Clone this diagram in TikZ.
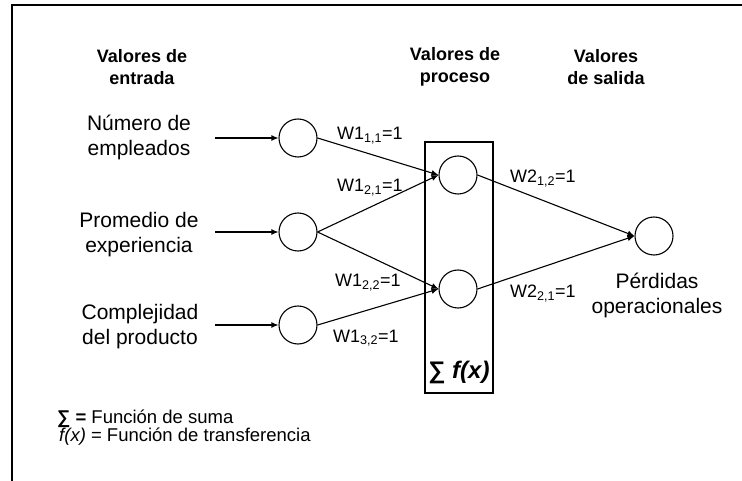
\documentclass[tikz,border=0pt]{standalone}
\usepackage{fontspec}
\setmainfont{Liberation Sans}
\usetikzlibrary{arrows.meta}

\begin{document}
\begin{tikzpicture}[x=1pt, y=-1pt,
    neurona/.style={draw, circle, minimum size=38pt, inner sep=0pt, line width=1.1pt},
    flecha/.style={-{Latex[length=7pt,width=6pt]}, line width=1.1pt},
    texto/.style={align=center, font=\fontsize{21}{25}\selectfont},
    titulo/.style={align=center, font=\fontsize{18}{22}\selectfont\bfseries},
    peso/.style={anchor=base west, inner sep=0pt, font=\fontsize{18}{22}\selectfont},
    leyenda/.style={anchor=base west, inner sep=0pt, font=\fontsize{18.5}{22}\selectfont}]

            \useasboundingbox (0,0) rectangle (742,481);
            \draw[line width=2pt] (12,481) -- (12,5) -- (742,5);

            % titulos
            \node[titulo] (tit1) at (142,67) {Valores de\\entrada};
            \node[titulo] (tit2) at (455,67) {Valores de\\proceso};
            \node[titulo] (tit3) at (606,67) {Valores\\de salida};

            % entradas
            \node[texto] (x1) at (139,137) {Número de\\empleados};
            \node[texto] (x2) at (139,235) {Promedio de\\experiencia};
            \node[texto] (x3) at (140,327) {Complejidad\\del producto};
            \node[texto] (y1) at (657,295) {Pérdidas\\operacionales};

            \coordinate (a1) at (215,138);
            \coordinate (a2) at (215,232);
            \coordinate (a3) at (215,325);

            % neuronas
            \node[draw, line width=1.1pt, minimum width=68pt, minimum height=251pt, inner sep=0pt] (caja) at (459,267.5) {};
            \node[neurona] (e1) at (298,138) {};
            \node[neurona] (e2) at (298,232) {};
            \node[neurona] (e3) at (298,325) {};
            \node[neurona] (h1) at (458,175) {};
            \node[neurona] (h2) at (458,289) {};
            \node[neurona] (o) at (654,236) {};

            \draw[flecha] (a1) -- (e1);
            \draw[flecha] (a2) -- (e2);
            \draw[flecha] (a3) -- (e3);

            \draw[flecha] (e1.east) -- (h1.west);
            \draw[flecha] (e2.east) -- (h1.west);
            \draw[flecha] (e2.east) -- (h2.west);
            \draw[flecha] (e3.east) -- (h2.west);
            \draw[flecha] (h1.east) -- (o.west);
            \draw[flecha] (h2.east) -- (o.west);

            % pesos
            \node[peso] (w11) at (337,140) {W1\textsubscript{1,1}=1};
            \node[peso] (w21) at (337,192) {W1\textsubscript{2,1}=1};
            \node[peso] (w22) at (335,287) {W1\textsubscript{2,2}=1};
            \node[peso] (w32) at (333,342) {W1\textsubscript{3,2}=1};
            \node[peso] (v12) at (510,183) {W2\textsubscript{1,2}=1};
            \node[peso] (v21) at (510,298) {W2\textsubscript{2,1}=1};

            \node[anchor=base, font=\fontsize{24}{28}\selectfont\bfseries] (suma) at (459,378) {∑ \textit{f(x)}};

            % leyenda
            \node[leyenda] (ley1) at (57,423) {\textbf{∑ =} Función de suma};
            \node[leyenda] (ley2) at (59,441) {\textit{f(x)} = Función de transferencia};
        \end{tikzpicture}
\end{document}
